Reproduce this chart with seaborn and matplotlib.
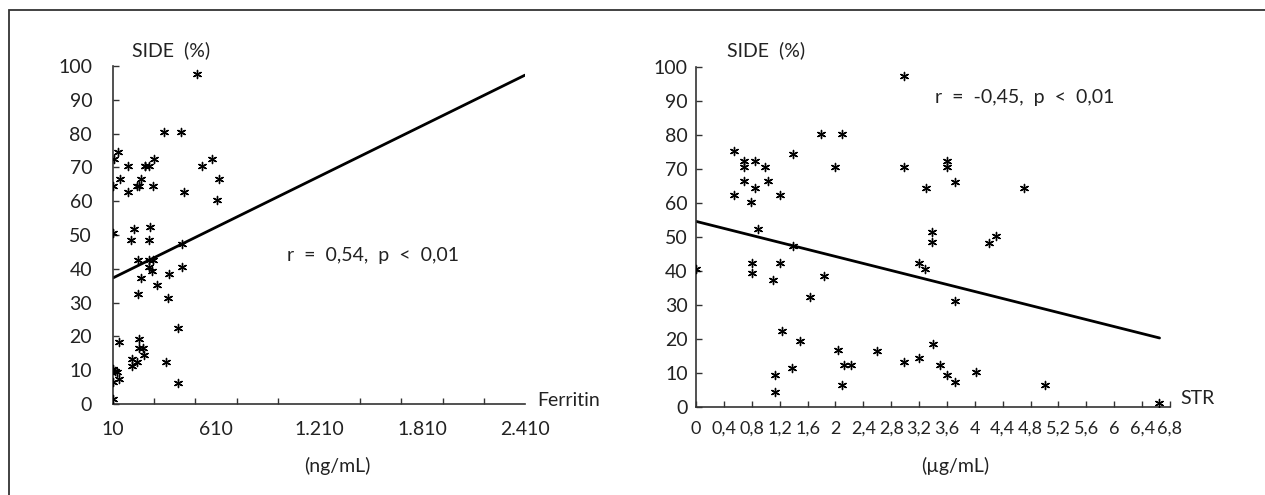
import numpy as np
import pandas as pd
import matplotlib.pyplot as plt
import seaborn as sns
from matplotlib.patches import Rectangle
from matplotlib.ticker import FixedLocator

sns.set_style('ticks')
plt.rcParams['font.family'] = ['Lato', 'DejaVu Sans']

# Ferritin (ng/mL) vs SIDE (%)
ferritin = [498, 307, 404, 41, 18, 249, 585, 95, 195, 196, 221, 530, 51, 173, 627,
            10, 152, 161, 245, 97, 425, 618, 132, 225, 10, 113, 220, 410, 154, 221,
            241, 220, 410, 239, 336, 173, 268, 154, 332, 387, 45, 161, 161, 183, 192,
            119, 152, 320, 121, 12, 22, 35, 45, 387, 10, 10]
side_fer = [97.6, 80.4, 80.4, 74.5, 72.5, 72.5, 72.5, 70.5, 70.5, 70.5, 70.5, 70.5, 66.5, 66.5, 66.5,
            64.6, 64.6, 64.6, 64.6, 62.6, 62.6, 60.4, 51.8, 52.5, 50.5, 48.5, 48.5, 47.3, 42.6, 42.6,
            42.6, 40.4, 40.4, 39.3, 38.4, 37.4, 35.3, 32.5, 31.3, 22.4, 18.4, 19.3, 16.5, 16.5, 14.5,
            13.2, 12.5, 12.5, 11.3, 10.3, 9.8, 9.4, 7.4, 6.3, 6.4, 1.5]
fer_line_x = [10, 2410]
fer_line_y = [37.3, 97.3]
fer_ticklabels = ['10', '610', '1.210', '1.810', '2.410']

# STR (ug/mL) vs SIDE (%)
strv = [0.55, 0.69, 0.84, 0.69, 0.99, 1.39, 1.79, 2.09, 1.99, 2.99, 2.99, 0.69, 1.04, 0.84,
        0.55, 1.20, 0.79, 0.89, 3.30, 3.39, 3.39, 3.60, 3.60, 3.71, 4.71, 4.20, 4.31, 1.39,
        0.0, 0.80, 0.80, 1.20, 1.10, 1.84, 1.64, 1.24, 1.49, 1.38, 1.14, 1.14, 2.03, 2.13,
        2.23, 2.09, 2.60, 2.99, 3.20, 3.20, 3.29, 3.40, 3.50, 3.60, 3.71, 3.71, 4.01, 5.01, 6.64]
side_str = [75.4, 72.4, 72.4, 70.5, 70.5, 74.4, 80.3, 80.3, 70.5, 97.4, 70.5, 66.6, 66.6, 64.3,
            62.4, 62.4, 60.4, 52.4, 64.3, 51.4, 48.4, 72.4, 70.5, 66.3, 64.3, 48.3, 50.3, 47.4,
            40.5, 42.4, 39.3, 42.4, 37.4, 38.5, 32.4, 22.5, 19.4, 11.4, 9.4, 4.5, 16.8, 12.5,
            12.5, 6.4, 16.5, 13.3, 14.5, 42.4, 40.5, 18.4, 12.4, 9.3, 31.2, 7.3, 10.4, 6.4, 1.1]
str_line_x = [0, 6.65]
str_line_y = [54.6, 20.3]
str_ticks = [round(0.4 * i, 1) for i in range(18)]

df_fer = pd.DataFrame({'ferritin': ferritin, 'side': side_fer})
df_str = pd.DataFrame({'str': strv, 'side': side_str})

W, H = 1265, 495
fig = plt.figure(figsize=(W / 100, H / 100), dpi=100)

# outer frame
fig.patches.append(Rectangle((9 / W, -0.05), 1.2, (H - 10) / H + 0.05, transform=fig.transFigure,
                             fill=False, edgecolor='#333333', linewidth=1.3))

ax1 = fig.add_axes([113 / W, 1 - 404 / H, 412 / W, 338 / H])
ax2 = fig.add_axes([696 / W, 1 - 407 / H, 474 / W, 340 / H])

star = (6, 2, 0)
fs = 14
txt = dict(fontsize=fs, color='#222222')

# left panel
sns.scatterplot(data=df_fer, x='ferritin', y='side', ax=ax1, marker=star, s=34,
                color='black', edgecolor='black', linewidth=1.0, zorder=3)
sns.lineplot(x=fer_line_x, y=fer_line_y, ax=ax1, color='black', linewidth=2.0)
ax1.set_xlim(10, 2410)
ax1.set_ylim(0, 100)
ax1.set_xticks([10, 610, 1210, 1810, 2410])
ax1.set_xticklabels(fer_ticklabels)
ax1.xaxis.set_minor_locator(FixedLocator([10 + 240 * i for i in range(11)]))
ax1.tick_params(axis='x', which='major', length=0, pad=12, labelsize=fs)
ax1.tick_params(axis='x', which='minor', direction='in', length=4, width=1, color='#333333')
ax1.set_yticks(range(0, 101, 10))
ax1.tick_params(axis='y', direction='in', length=4, width=1, pad=15, labelsize=fs)

# right panel
sns.scatterplot(data=df_str, x='str', y='side', ax=ax2, marker=star, s=34,
                color='black', edgecolor='black', linewidth=1.0, zorder=3)
sns.lineplot(x=str_line_x, y=str_line_y, ax=ax2, color='black', linewidth=2.0)
ax2.set_xlim(0, 6.8)
ax2.set_ylim(0, 100)
ax2.set_xticks(str_ticks)
ax2.set_xticklabels([('%g' % t).replace('.', ',') for t in str_ticks])
ax2.tick_params(axis='x', direction='in', length=4, width=1, pad=10, labelsize=13)
ax2.set_yticks(range(0, 101, 10))
ax2.tick_params(axis='y', direction='in', length=4, width=1, pad=6, labelsize=fs)

for ax in (ax1, ax2):
    sns.despine(ax=ax)
    ax.set_xlabel('')
    ax.set_ylabel('')
    ax.set_facecolor('none')
    for s in ('left', 'bottom'):
        ax.spines[s].set_color('#333333')
        ax.spines[s].set_linewidth(1.2)
    ax.tick_params(colors='#333333', labelcolor='#222222')

fig.text(171 / W, 1 - 50 / H, 'SIDE  (%)', ha='center', va='center', **txt)
fig.text(766 / W, 1 - 50 / H, 'SIDE  (%)', ha='center', va='center', **txt)
fig.text(537 / W, 1 - 400 / H, 'Ferritin', ha='left', va='center', **txt)
fig.text(1180 / W, 1 - 399 / H, 'STR', ha='left', va='center', **txt)
fig.text(337 / W, 1 - 466 / H, '(ng/mL)', ha='center', va='center', **txt)
fig.text(955 / W, 1 - 466 / H, '(\u00b5g/mL)', ha='center', va='center', **txt)
fig.text(287 / W, 1 - 255 / H, 'r  =  0,54,  p  <  0,01', ha='left', va='center', **txt)
fig.text(935 / W, 1 - 97 / H, 'r  =  -0,45,  p  <  0,01', ha='left', va='center', **txt)

fig.savefig('out.png', dpi=100, facecolor='white')
